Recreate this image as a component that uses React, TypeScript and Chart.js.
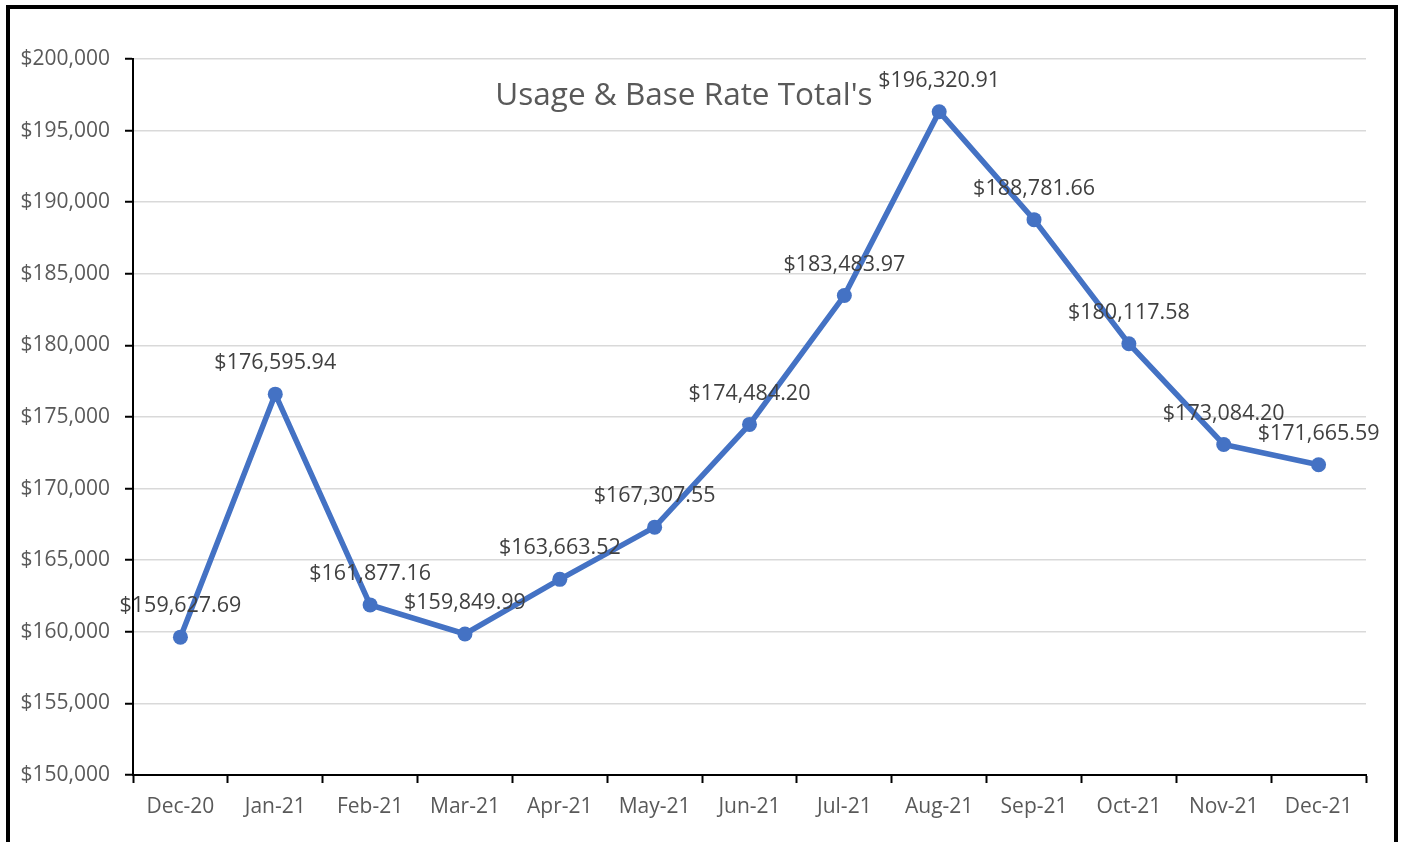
import React, { useEffect, useRef } from "react";
import { Chart, registerables } from "chart.js";

Chart.register(...registerables);

const categories = ["Dec-20", "Jan-21", "Feb-21", "Mar-21", "Apr-21", "May-21", "Jun-21", "Jul-21", "Aug-21", "Sep-21", "Oct-21", "Nov-21", "Dec-21"];
const totals = [159627.69, 176595.94, 161877.16, 159849.99, 163663.52, 167307.55, 174484.2, 183483.97, 196320.91, 188781.66, 180117.58, 173084.2, 171665.59];
const chartTitle = "Usage & Base Rate Total's";
const yMin = 150000;
const yMax = 200000;
const yStep = 5000;

const FONT = "'Open Sans', 'Noto Sans', sans-serif";

const overlayPlugin = {
  id: "overlay",
  afterDatasetsDraw(chart: any) {
    const ctx = chart.ctx;
    const meta = chart.getDatasetMeta(0);
    ctx.save();
    ctx.font = `21.5px ${FONT}`;
    ctx.fillStyle = "#404040";
    ctx.textAlign = "center";
    ctx.textBaseline = "middle";
    meta.data.forEach((pt: any, i: number) => {
      const v = totals[i];
      const txt = "$" + v.toLocaleString("en-US", { minimumFractionDigits: 2, maximumFractionDigits: 2 });
      ctx.fillText(txt, pt.x, pt.y - 31);
    });
    ctx.font = `31.5px ${FONT}`;
    ctx.fillStyle = "#595959";
    ctx.fillText(chartTitle, 684, 96);
    ctx.restore();
  },
};

export default function App() {
  const ref = useRef<HTMLCanvasElement | null>(null);
  useEffect(() => {
    if (!ref.current) return;
    const chart = new Chart(ref.current, {
      type: "line",
      data: {
        labels: categories,
        datasets: [
          {
            data: totals,
            borderColor: "#4472C4",
            backgroundColor: "#4472C4",
            borderWidth: 5.5,
            pointRadius: 7.5,
            pointBorderWidth: 0,
            pointBackgroundColor: "#4472C4",
            tension: 0,
          },
        ],
      },
      options: {
        responsive: false,
        animation: false,
        devicePixelRatio: 1,
        layout: { padding: { left: 0, top: 59, right: 37, bottom: 0 } },
        plugins: { legend: { display: false }, title: { display: false }, tooltip: { enabled: false } },
        scales: {
          x: {
            offset: true,
            grid: { display: true, drawOnChartArea: false, drawTicks: true, tickLength: 8, tickColor: "#000", tickWidth: 2, offset: true },
            border: { display: true, color: "#000", width: 2 },
            ticks: { color: "#595959", font: { family: FONT, size: 21 }, padding: 11, maxRotation: 0, autoSkip: false },
            afterFit: (s: any) => { s.height = 67; },
          },
          y: {
            min: yMin,
            max: yMax,
            grid: { color: "#d9d9d9", lineWidth: 1.5, tickLength: 8, tickColor: "#000", tickWidth: 2 },
            border: { display: true, color: "#000", width: 2 },
            ticks: {
              stepSize: yStep,
              color: "#595959",
              font: { family: FONT, size: 21 },
              padding: 15,
              callback: (v: any) => "$" + Number(v).toLocaleString("en-US"),
            },
            afterFit: (s: any) => { s.width = 133; },
          },
        },
      },
      plugins: [overlayPlugin],
    });
    return () => chart.destroy();
  }, []);
  return (
    <div style={{ position: "fixed", left: 0, top: 0, width: 1403, height: 842, background: "#fff", overflow: "hidden" }}>
      <canvas ref={ref} width={1403} height={842} style={{ position: "absolute", left: 0, top: 0, display: "block" }} />
      <div style={{ position: "absolute", left: 6, top: 5, width: 1392, height: 860, border: "4px solid #000", boxSizing: "border-box", pointerEvents: "none" }} />
    </div>
  );
}
